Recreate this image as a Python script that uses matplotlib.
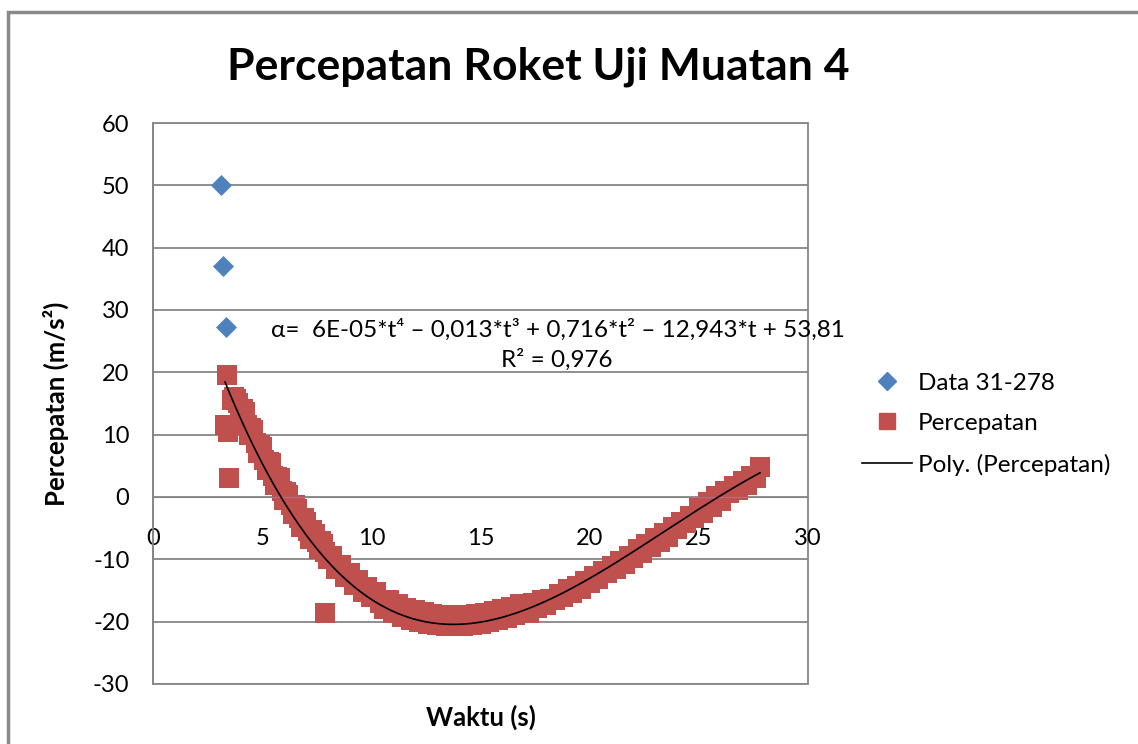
import numpy as np
import matplotlib
matplotlib.use("Agg")
import matplotlib.pyplot as plt
from matplotlib.lines import Line2D
from matplotlib.patches import Rectangle

plt.rcParams["font.family"] = ["Lato", "DejaVu Sans"]
plt.rcParams["axes.unicode_minus"] = False

# blue series (first rows of the log)
t_blue = [3.12, 3.20, 3.34]
a_blue = [50.0, 37.0, 27.2]

# red series: measured acceleration
t_red = [3.40, 3.30, 3.45, 3.50, 7.90,
         3.6, 3.7, 3.8, 3.9, 4.0, 4.1, 4.2, 4.3, 4.4, 4.5, 4.6, 4.7, 4.8, 4.9, 5.0,
         5.1, 5.2, 5.3, 5.4, 5.5, 5.6, 5.7, 5.8, 5.9, 6.0, 6.1, 6.2, 6.3, 6.4, 6.5,
         6.6, 6.7, 6.8, 6.9, 7.0, 7.1, 7.2, 7.3, 7.4, 7.5, 7.6, 7.7, 7.8, 7.9,
         8.0, 8.2, 8.4, 8.6, 8.8, 9.0, 9.2, 9.4,
         9.6, 9.8, 10.0, 10.2, 10.4, 10.6, 10.8, 11.0, 11.2, 11.4, 11.6, 11.8, 12.0,
         12.2, 12.4, 12.6, 12.8, 13.0, 13.2, 13.4, 13.6, 13.8, 14.0, 14.2, 14.4, 14.6,
         14.8, 15.0, 15.2, 15.4, 15.6, 15.8, 16.0, 16.2, 16.4, 16.6, 16.8, 17.0, 17.2,
         17.4, 17.6, 17.8, 18.0, 18.2, 18.4, 18.6, 18.8, 19.0, 19.2, 19.4, 19.6, 19.8,
         20.0, 20.2, 20.4, 20.6, 20.8, 21.0, 21.2, 21.4, 21.6, 21.8, 22.0, 22.2, 22.4,
         22.6, 22.8, 23.0, 23.2, 23.4, 23.6, 23.8, 24.0, 24.2, 24.4, 24.6, 24.8, 25.0,
         25.2, 25.4, 25.6, 25.8, 26.0, 26.2, 26.4, 26.6, 26.8, 27.0, 27.2, 27.4, 27.6,
         27.8]
a_red = [19.6, 11.5, 10.4, 3.0, -18.6,
         15.6, 16.0, 15.8, 15.0, 13.0, 14.1, 13.6, 11.6, 9.9, 11.1, 10.8, 8.7, 7.1, 8.3, 8.0,
         5.9, 4.4, 5.6, 5.4, 3.4, 1.9, 3.2, 3.0, 1.0, -0.5, 0.8, 0.4, -1.3, -2.7, -1.3,
         -2.0, -3.4, -4.8, -3.4, -4.0, -5.4, -6.7, -5.3, -5.9, -7.2, -8.4, -7.1, -7.5, -8.8,
         -10.0, -9.4, -11.5, -10.9, -12.9, -12.2, -14.1, -13.3,
         -15.2, -14.4, -16.1, -15.3, -17.0, -17.9, -16.6, -18.6, -17.2, -19.2, -17.8, -19.7, -18.2,
         -20.0, -18.5, -20.3, -18.8, -20.6, -19.0, -20.7, -19.0, -20.7, -19.1, -20.7, -19.0, -20.6,
         -18.8, -20.4, -18.6, -20.1, -18.3, -19.8, -18.0, -19.4, -17.6, -19.0, -17.2, -18.4, -18.6,
         -17.0, -17.8, -16.6, -17.4, -16.4, -16.6, -15.6, -16.0, -14.8, -15.4, -14.2, -14.8, -13.4,
         -13.8, -12.6, -13.2, -11.8, -12.2, -11.0, -11.6, -10.2, -10.8, -9.4, -9.8, -8.4, -9.0,
         -7.6, -8.0, -6.6, -7.2, -5.8, -6.4, -4.8, -5.2, -4.0, -4.2, -3.0, -3.4, -1.8,
         -2.6, -0.8, -1.6, 0.2, -0.6, 1.0, 0.6, 1.8, 1.2, 2.6, 2.0, 3.4, 3.0,
         4.8]

# trendline coefficients as printed on the chart (t^4 ... t^0)
poly_coef = [6e-05, -0.013, 0.716, -12.943, 53.81]

BLUE = "#4F81BD"
RED = "#C0504D"
GRID = "#868686"

W, H = 1138, 744
fig = plt.figure(figsize=(W / 100, H / 100), dpi=100)
ax = fig.add_axes([153 / W, 1 - 684 / H, (808 - 153) / W, (684 - 123) / H])

ax.set_xlim(0, 30)
ax.set_ylim(-30, 60)
ax.set_xticks(range(0, 31, 5))
ax.set_yticks(range(-30, 61, 10))
ax.yaxis.grid(True, color=GRID, lw=1.3)
ax.set_axisbelow(True)
for s in ax.spines.values():
    s.set_visible(False)
ax.spines["bottom"].set_visible(True)
ax.spines["bottom"].set_position(("data", 0))
ax.spines["bottom"].set_color(GRID)
ax.spines["left"].set_visible(True)
ax.spines["left"].set_color(GRID)
ax.spines["left"].set_linewidth(1.3)
ax.add_patch(Rectangle((0, 0), 1, 1, transform=ax.transAxes, fill=False,
                       ec=GRID, lw=1.3, clip_on=False, zorder=0))
ax.tick_params(length=0, labelsize=17)
ax.tick_params(axis="x", pad=22)
ax.tick_params(axis="y", pad=17)

ax.scatter(t_red, a_red, marker="s", s=200, color=RED, lw=0, zorder=2, label="Percepatan")
ax.scatter(t_blue, a_blue, marker="D", s=115, color=BLUE, lw=0, zorder=3, label="Data 31-278")
tt = np.linspace(min(t_red), max(t_red), 300)
ax.plot(tt, np.polyval(poly_coef, tt), color="black", lw=1.2, zorder=4, label="Poly. (Percepatan)")

ax.set_xlabel("Waktu (s)", fontsize=18.5, fontweight="bold")
ax.xaxis.set_label_coords(0.5, -0.036)
ax.set_ylabel("Percepatan (m/s²)", fontsize=18.5, fontweight="bold")
ax.yaxis.set_label_coords(-0.128, 0.5)

fig.text(558 / W, 1 - 330 / H, "α=  6E-05*t⁴ – 0,013*t³ + 0,716*t² – 12,943*t + 53,81",
         ha="center", va="center", fontsize=17.5)
fig.text(557 / W, 1 - 360 / H, "R² = 0,976", ha="center", va="center", fontsize=17.5)

fig.text(538 / W, 1 - 67 / H, "Percepatan Roket Uji Muatan 4", ha="center", va="center",
         fontsize=32, fontweight="bold")

handles = [
    Line2D([], [], ls="none", marker="D", ms=9, color=BLUE),
    Line2D([], [], ls="none", marker="s", ms=12, color=RED),
    Line2D([], [], color="black", lw=1.2),
]
labels = ["Data 31-278", "Percepatan", "Poly. (Percepatan)"]
fig.legend(handles, labels, loc="center left", bbox_to_anchor=(862 / W, 1 - 424 / H),
           frameon=False, fontsize=17.5, handlelength=2.05, handletextpad=0.25,
           labelspacing=0.8, borderpad=0, borderaxespad=0)

fig.add_artist(Rectangle((8 / W, -0.1), 2, 1.1 - 12 / H, transform=fig.transFigure,
                         fill=False, ec="#8a8a8a", lw=2.5))

fig.savefig("out.png", dpi=100)
